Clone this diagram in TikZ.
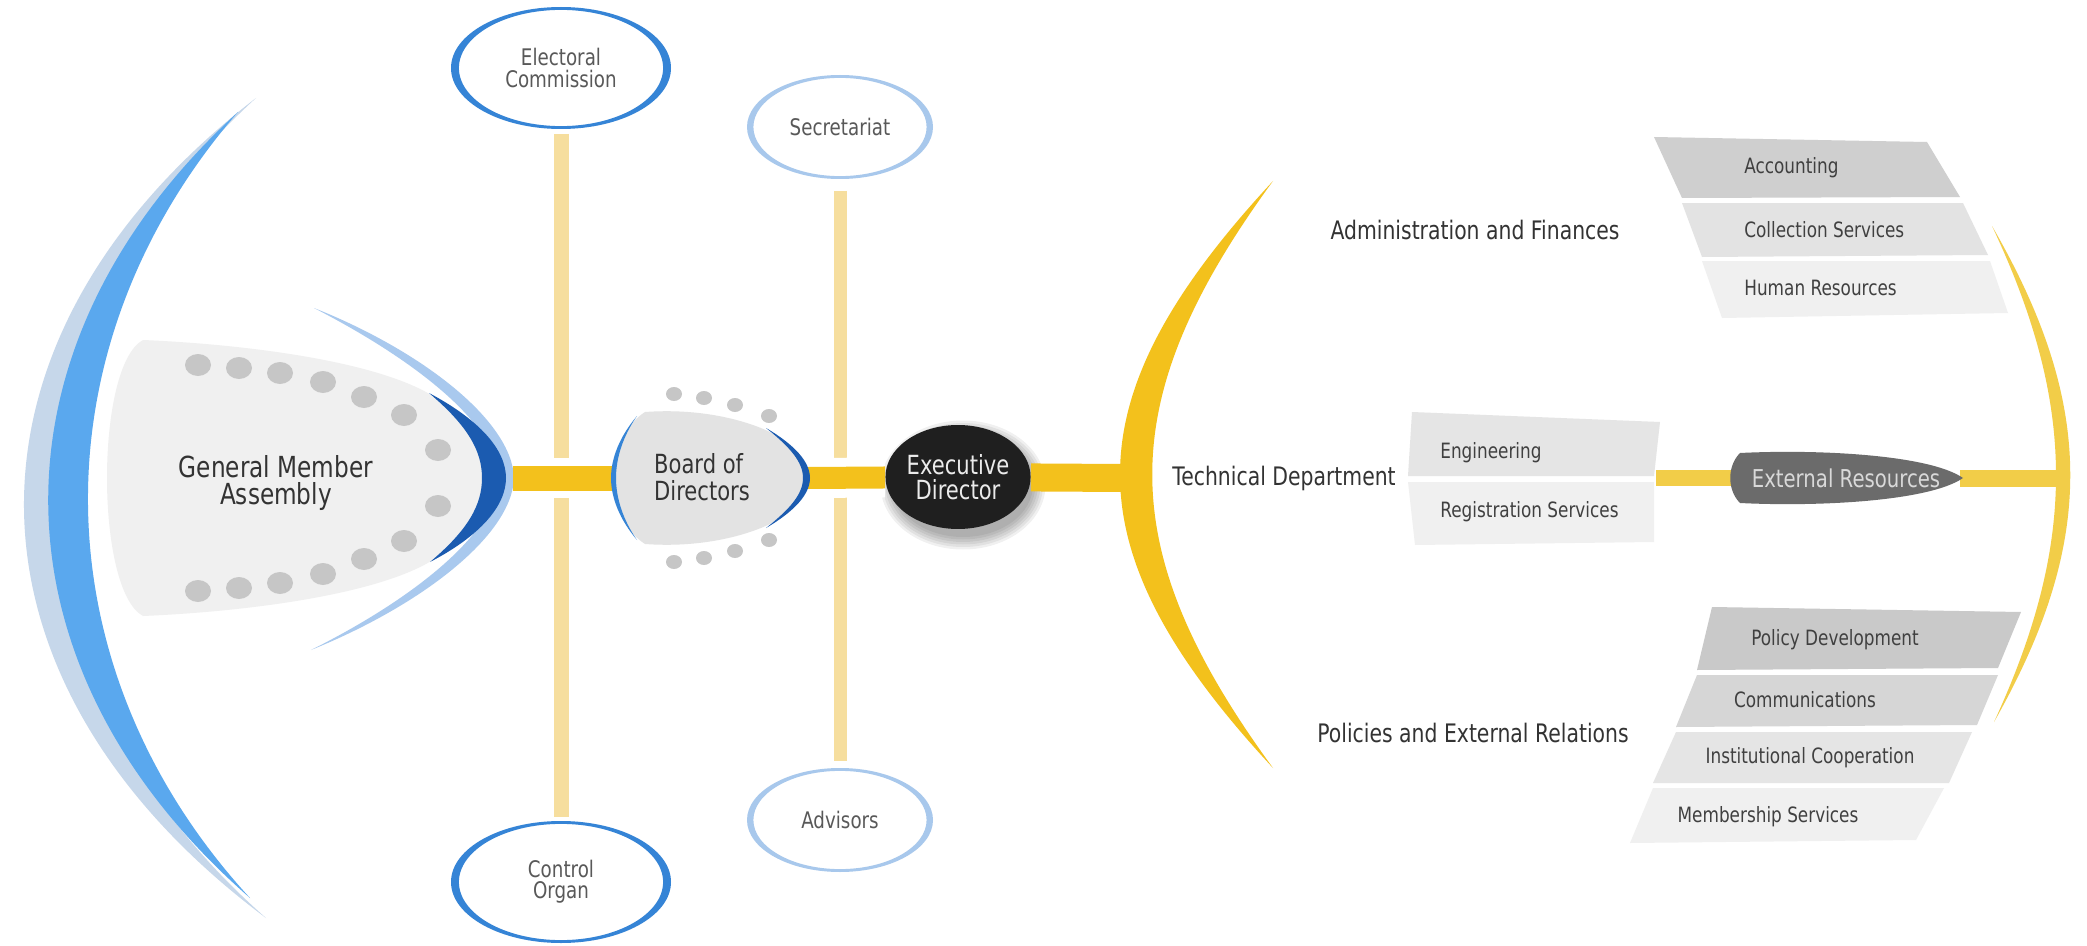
\documentclass[tikz,border=0pt]{standalone}
\usepackage{fontspec}
\setmainfont{DejaVu Sans}[FakeStretch=0.8]
\usetikzlibrary{shapes.geometric}

\definecolor{gold}{HTML}{F3C11C}
\definecolor{paleGold}{HTML}{F2CD48}
\definecolor{stem}{HTML}{F6DE9E}
\definecolor{mist}{HTML}{C6D7EA}
\definecolor{sky}{HTML}{5AA8EE}
\definecolor{navy}{HTML}{1B5BB0}
\definecolor{iceblue}{HTML}{A9C9EE}
\definecolor{ringblue}{HTML}{3584D6}
\definecolor{ringpale}{HTML}{A8C8EC}
\definecolor{dotgray}{HTML}{C6C6C6}
\definecolor{ink}{HTML}{333333}

\begin{document}
\begin{tikzpicture}[x=0.02cm, y=-0.02cm,
    lab/.style={text=ink, inner sep=0pt},
    head/.style={lab, font=\fontsize{14.5}{16}\selectfont},
    item/.style={lab, text=black!75, font=\fontsize{12}{14}\selectfont},
    ring/.style={ellipse, fill=white, inner sep=0pt, align=center, text=black!65, font=\fontsize{13}{12}\selectfont},
    ybar/.style={line width=0.5cm, gold},
    cased/.style={preaction={draw=white, line width=0.8cm}},
    vline/.style={line width=0.3cm, stem}]
        \fill[white] (0,0) rectangle (2087,946);
        \useasboundingbox (0,0) rectangle (2087,946);

        \fill[mist] (256,98) .. controls (-55,338) and (-55,678) .. (266,918) .. controls (-7,678) and (-7,338) .. (256,98) -- cycle;
        \fill[sky] (238,112) .. controls (-17,345) and (-17,665) .. (250,898) .. controls (36,665) and (36,345) .. (238,112) -- cycle;
        \fill[black!6] (143,340) .. controls (260,345) and (400,365) .. (445,405) .. controls (475,432) and (492,455) .. (492,478) .. controls (492,501) and (475,524) .. (445,551) .. controls (400,591) and (260,611) .. (143,616) .. controls (95,590) and (95,366) .. (143,340) -- cycle;
        \fill[iceblue] (314,308) .. controls (420,350) and (512,420) .. (514,478) .. controls (512,536) and (420,606) .. (311,650) .. controls (415,598) and (497,532) .. (499,478) .. controls (497,424) and (415,360) .. (314,308) -- cycle;
        \fill[navy] (429,393) .. controls (480,420) and (506,450) .. (506,478) .. controls (506,506) and (480,536) .. (430,562) .. controls (468,530) and (482,505) .. (482,478) .. controls (482,451) and (468,426) .. (429,393) -- cycle;
        \foreach \x/\y in {198/365,239/368,280/373,323/382,364/397,404/415,438/450,438/506,404/541,364/559,323/574,280/583,239/588,198/591}
            \fill[dotgray] (\x,\y) ellipse [x radius=13, y radius=11];
        \node[lab, align=center, font=\fontsize{16.5}{15.5}\selectfont] (gma) at (276,483) {General Member\\Assembly};
        \coordinate (gmatip) at (513,478);
        \coordinate (boardL) at (612,478);
        \coordinate (boardR) at (808,478);

        \fill[ringblue] (561,68) ellipse [x radius=110, y radius=61];
        \node[ring, draw=ringblue, line width=1pt, minimum width=4.12cm, minimum height=2.36cm] (elec) at (561,68) {Electoral\\Commission};
        \fill[ringblue] (561,882) ellipse [x radius=110, y radius=61];
        \node[ring, draw=ringblue, line width=1pt, minimum width=4.12cm, minimum height=2.36cm] (ctrl) at (561,882) {Control\\Organ};
        \fill[ringpale] (840,127) ellipse [x radius=93, y radius=52];
        \node[ring, draw=ringpale, line width=1pt, minimum width=3.5cm, minimum height=2cm] (sec) at (840,127) {Secretariat};
        \fill[ringpale] (840,820) ellipse [x radius=93, y radius=52];
        \node[ring, draw=ringpale, line width=1pt, minimum width=3.5cm, minimum height=2cm] (adv) at (840,820) {Advisors};
        \draw[vline, shorten <=0.12cm, shorten >=0.1cm] (elec) -- (ctrl);
        \draw[vline, line width=0.26cm, shorten <=0.26cm, shorten >=0.16cm] (sec) -- (adv);

        \foreach \r in {0,...,5}
            \fill[black, opacity=0.06] (963,485) ellipse [x radius=70+\r*2.5, y radius=52+\r*2.5];
        \node[ellipse, fill=black!88, minimum width=2.8cm, minimum height=2.08cm, text=black!8, align=center, inner sep=0pt, font=\fontsize{15}{14.5}\selectfont] (exec) at (958,477) {Executive\\Director};
        \coordinate (arcL) at (1124,478);
        \draw[ybar, cased] (gmatip) -- (boardL);
        \draw[ybar, cased, line width=0.44cm] (boardR) -- (exec);
        \draw[ybar, line width=0.56cm] (exec) -- (arcL);

        \fill[black!11] (613,478) .. controls (613,450) and (625,425) .. (645,412) .. controls (700,408) and (745,420) .. (770,432) .. controls (792,446) and (806,462) .. (806,478) .. controls (806,494) and (792,510) .. (770,524) .. controls (745,536) and (700,548) .. (645,544) .. controls (625,531) and (613,506) .. (613,478) -- cycle;
        \fill[ringblue] (637,416) .. controls (620,436) and (611,458) .. (611,478) .. controls (611,498) and (620,520) .. (637,540) .. controls (623,520) and (616,498) .. (616,478) .. controls (616,458) and (623,436) .. (637,416) -- cycle;
        \fill[navy] (766,428) .. controls (795,445) and (810,462) .. (810,478) .. controls (810,494) and (795,511) .. (766,528) .. controls (790,509) and (803,494) .. (803,478) .. controls (803,462) and (790,447) .. (766,428) -- cycle;
        \foreach \x/\y in {674/394,704/398,735/405,769/416,674/562,704/558,735/551,769/540}
            \fill[dotgray] (\x,\y) ellipse [x radius=8, y radius=7];
        \node[lab, align=left, font=\fontsize{15}{15.5}\selectfont] (board) at (702,477) {Board of\\Directors};

        \fill[gold] (1273,181) .. controls (1069,401) and (1069,548) .. (1273,768) .. controls (1112,548) and (1112,401) .. (1273,181) -- cycle;
        \fill[paleGold] (1992,226) .. controls (2096,406) and (2096,542) .. (1994,722) .. controls (2077,542) and (2077,406) .. (1992,226) -- cycle;

        \fill[black!19] (1654,137) -- (1927,142) -- (1960,197) -- (1682,198) -- cycle;
        \fill[black!11] (1682,203) -- (1963,203) -- (1988,255) -- (1702,257) -- cycle;
        \fill[black!6] (1702,261) -- (1990,261) -- (2008,313) -- (1722,318) -- cycle;
        \fill[black!10] (1412,412) -- (1660,422) -- (1654,476) -- (1408,476) -- cycle;
        \fill[black!6] (1408,482) -- (1654,482) -- (1654,542) -- (1415,545) -- cycle;
        \fill[black!21] (1712,607) -- (2021,612) -- (1998,668) -- (1697,670) -- cycle;
        \fill[black!16] (1697,675) -- (1998,675) -- (1977,725) -- (1676,727) -- cycle;
        \fill[black!10] (1676,732) -- (1972,732) -- (1949,783) -- (1653,783) -- cycle;
        \fill[black!6] (1653,788) -- (1944,788) -- (1916,840) -- (1630,843) -- cycle;

        \node[head] (adm) at (1475,230) {Administration and Finances};
        \node[head] (tech) at (1284,478) {Technical Department};
        \node[head] (pol) at (1473,733) {Policies and External Relations};
        \node[item, anchor=west] (acc) at (1744,168) {Accounting};
        \node[item, anchor=west] (col) at (1744,230) {Collection Services};
        \node[item, anchor=west] (hr) at (1744,288) {Human Resources};
        \node[item, anchor=west] (eng) at (1440,453) {Engineering};
        \node[item, anchor=west] (reg) at (1440,512) {Registration Services};
        \node[item] (pdev) at (1835,640) {Policy Development};
        \node[item] (com) at (1805,700) {Communications};
        \node[item] (coop) at (1810,758) {Institutional Cooperation};
        \node[item] (mem) at (1768,817) {Membership Services};

        \coordinate (techR) at (1656,478);
        \coordinate (extL) at (1732,478);
        \coordinate (extR) at (1960,478);
        \coordinate (arcR) at (2058,478);
        \draw[paleGold, line width=0.32cm] (techR) -- (extL);
        \draw[paleGold, line width=0.34cm] (extR) -- (arcR);
        \fill[black!58] (1740,453) .. controls (1820,449) and (1930,455) .. (1963,478) .. controls (1930,501) and (1820,507) .. (1740,503) .. controls (1727,490) and (1727,466) .. (1740,453) -- cycle;
        \node[lab, text=black!15, font=\fontsize{14}{16}\selectfont] (ext) at (1846,478) {External Resources};
    \end{tikzpicture}
\end{document}
